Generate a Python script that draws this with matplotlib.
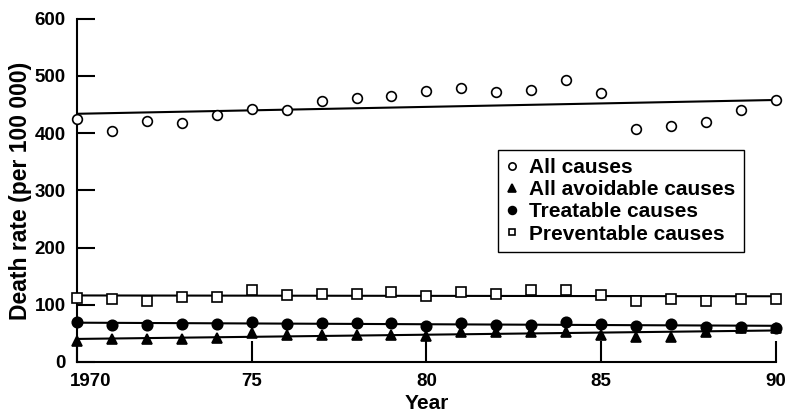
import numpy as np
import matplotlib.pyplot as plt
from matplotlib.transforms import ScaledTranslation

plt.rcParams['font.family'] = ['Liberation Sans', 'DejaVu Sans']
plt.rcParams['font.weight'] = 'bold'

# Data
years = np.arange(1970, 1991)
all_causes = [424, 403, 422, 417, 431, 443, 441, 457, 461, 465, 473,
              479, 472, 476, 493, 470, 407, 413, 420, 441, 458]
avoidable = [37, 41, 40, 40, 42, 50, 47, 47, 47, 48, 45,
             53, 53, 53, 53, 47, 44, 44, 53, 59, 59]
treatable = [70, 65, 65, 66, 67, 70, 67, 69, 69, 68, 63,
             68, 65, 65, 70, 67, 63, 67, 62, 61, 59]
preventable = [112, 110, 107, 113, 114, 126, 117, 119, 118, 122, 115,
               123, 118, 126, 125, 117, 107, 110, 107, 111, 111]

x_ticks = [1970, 1975, 1980, 1985, 1990]
x_tick_labels = ['1970', '75', '80', '85', '90']
y_ticks = [0, 100, 200, 300, 400, 500, 600]

fig = plt.figure(figsize=(7.86, 4.13), dpi=100)
ax = fig.add_axes([0.098, 0.1235, 0.889, 0.831])

series = [
    ('All causes', all_causes, dict(marker='o', mfc='white', ms=7)),
    ('All avoidable causes', avoidable, dict(marker='^', mfc='black', ms=7.5)),
    ('Treatable causes', treatable, dict(marker='o', mfc='black', ms=7.5)),
    ('Preventable causes', preventable, dict(marker='s', mfc='white', ms=6.5)),
]

for label, vals, style in series:
    # fitted trend line
    slope, icpt = np.polyfit(years, vals, 1)
    ax.plot(years, slope * years + icpt, color='black', lw=1.5, zorder=2)
    ax.plot(years, vals, ls='none', mec='black', mew=1.2, label=label,
            zorder=3, clip_on=False, **style)

ax.set_xlim(1970, 1990)
ax.set_ylim(0, 600)
ax.set_xticks(x_ticks)
ax.set_xticklabels(x_tick_labels)
ax.set_yticks(y_ticks)

ax.spines['top'].set_visible(False)
ax.spines['right'].set_visible(False)
for s in ['left', 'bottom']:
    ax.spines[s].set_linewidth(1.5)

ax.tick_params(axis='x', direction='in', length=15, width=1.5,
               labelsize=13.5, pad=8)
ax.tick_params(axis='y', direction='in', length=13, width=1.5,
               labelsize=13.5, pad=8)

# first year label sits to the right of the corner
first = ax.get_xticklabels()[0]
first.set_horizontalalignment('left')
first.set_transform(first.get_transform() +
                    ScaledTranslation(-5 / 72, 0, fig.dpi_scale_trans))

ax.set_xlabel('Year', fontsize=15, fontweight='bold', labelpad=3)
ax.set_ylabel('Death rate (per 100 000)', fontsize=16.5, fontweight='bold',
              labelpad=2)

leg = ax.legend(loc='upper left', bbox_to_anchor=(0.602, 0.618),
                borderaxespad=0, fontsize=15, markerscale=0.75,
                handlelength=0.6, handletextpad=0.5, labelspacing=0.15,
                borderpad=0.4, fancybox=False, framealpha=1,
                edgecolor='black')
leg.get_frame().set_linewidth(1.0)

fig.savefig('out.png', dpi=100)
